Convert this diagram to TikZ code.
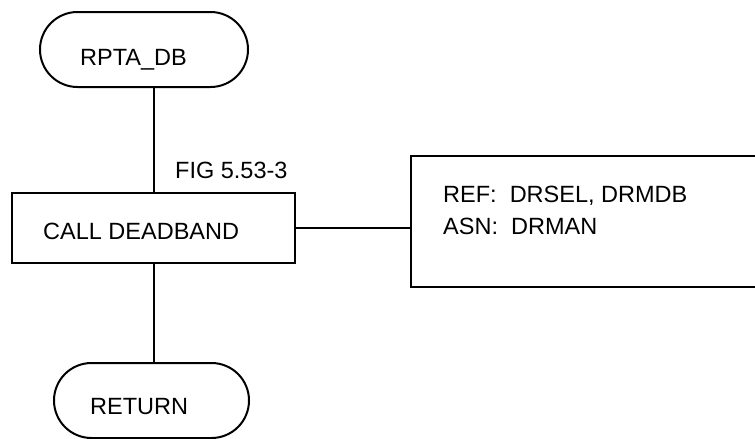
\documentclass[tikz,border=0pt]{standalone}
\usepackage{fontspec}
\setmainfont{Liberation Sans}
\usetikzlibrary{shapes.misc}
\begin{document}
\begin{tikzpicture}[x=1pt,y=-1pt,
  line/.style={line width=2pt},
  term/.style={rounded rectangle, draw, line width=2pt, minimum height=75pt, inner sep=0pt},
  proc/.style={rectangle, draw, line width=2pt, inner sep=0pt},
  txt/.style={font=\fontsize{23.5}{28}\selectfont, inner sep=0pt}]
\useasboundingbox (0,0) rectangle (755,439);
% shapes
\node[term, minimum width=208pt] (t1) at (144,49.5) {};
\node[term, minimum width=195pt] (t2) at (151.5,400.5) {};
\node[proc, minimum width=283pt, minimum height=70pt] (box) at (153.5,228) {};
\node[proc, minimum width=400pt, minimum height=131pt] (ref) at (611,221.5) {};
% texts
\node[txt, anchor=base west] (t1txt) at (80,65) {RPTA\_DB};
\node[txt, anchor=base west] (t2txt) at (90,414) {RETURN};
\node[txt, anchor=base west] (boxtxt) at (43,239) {CALL DEADBAND};
\node[txt, anchor=base west] (fig) at (175,178) {FIG 5.53-3};
\node[txt, anchor=base west] (reftxt1) at (443,202) {REF:\ \ DRSEL, DRMDB};
\node[txt, anchor=base west] (reftxt2) at (443,234) {ASN:\ \ DRMAN};
% connectors
\draw[line] (box.north |- t1.south) -- (box.north);
\draw[line] (box.south) -- (box.south |- t2.north);
\draw[line] (box.east) -- (box.east -| ref.west);
\end{tikzpicture}
\end{document}
